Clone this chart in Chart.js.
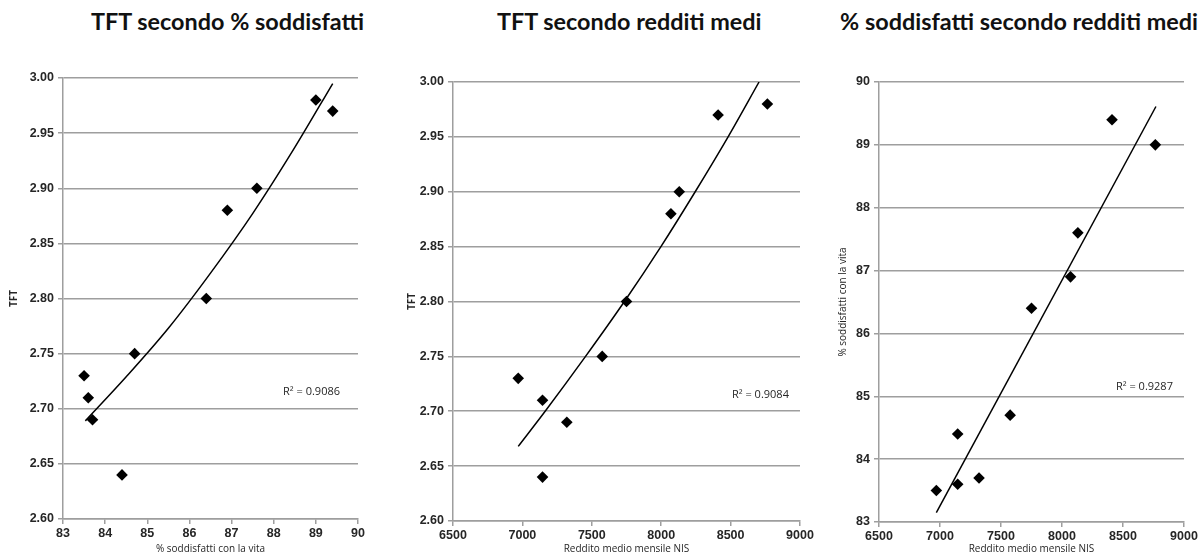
<!DOCTYPE html>
<html>
<head>
<meta charset="utf-8">
<script src="https://cdn.jsdelivr.net/npm/chart.js@4.4.1/dist/chart.umd.min.js"></script>
<style>
  html, body { margin: 0; padding: 0; background: #fff; }
  body { width: 1201px; height: 555px; position: relative; overflow: hidden; }
  .box { position: absolute; top: 0; height: 555px; }
  .title {
    position: absolute; top: 6px; font: 700 23.4px Lato, "Open Sans", sans-serif;
    color: #111; white-space: nowrap; line-height: 30px;
  }
</style>
</head>
<body>
<div class="title" id="t1" style="left:91px"></div>
<div class="title" id="t2" style="left:497px"></div>
<div class="title" id="t3" style="right:3px"></div>
<div class="box" style="left:0;width:380px"><canvas id="c1" width="380" height="555"></canvas></div>
<div class="box" style="left:380px;width:440px"><canvas id="c2" width="440" height="555"></canvas></div>
<div class="box" style="left:820px;width:381px"><canvas id="c3" width="381" height="555"></canvas></div>
<script>
// dati per regione
const soddisfatti = [83.5, 83.6, 83.7, 84.4, 84.7, 86.4, 86.9, 87.6, 89.0, 89.4];
const tft = [2.73, 2.71, 2.69, 2.64, 2.75, 2.80, 2.88, 2.90, 2.98, 2.97];
const reddito = [6970, 7145, 7320, 7145, 7575, 7750, 8070, 8130, 8765, 8410];

// linee di tendenza
const trend1X = [83.53, 84.5, 85.5, 86.5, 87.5, 88.5, 89.4];
const trend1Y = [2.689, 2.729, 2.773, 2.823, 2.877, 2.937, 2.995];
const trend2X = [6970, 7164, 7455, 7735, 7998, 8245, 8482, 8705];
const trend2Y = [2.668, 2.70, 2.75, 2.80, 2.85, 2.90, 2.95, 3.00];
const trend3X = [6970, 8770];
const trend3Y = [83.15, 89.61];

// tick
const tftTicks = [2.60, 2.65, 2.70, 2.75, 2.80, 2.85, 2.90, 2.95, 3.00];
const soddTicks = [83, 84, 85, 86, 87, 88, 89, 90];
const redditoTicks = [6500, 7000, 7500, 8000, 8500, 9000];

const titles = [
  "TFT secondo % soddisfatti",
  "TFT secondo redditi medi",
  "% soddisfatti secondo redditi medi"
];
const r2Labels = ["R² = 0.9086", "R² = 0.9084", "R² = 0.9287"];
const xTitles = ["% soddisfatti con la vita", "Reddito medio mensile NIS", "Reddito medio mensile NIS"];
const yTitles = ["TFT", "TFT", "% soddisfatti con la vita"];

document.getElementById("t1").textContent = titles[0];
document.getElementById("t2").textContent = titles[1];
document.getElementById("t3").textContent = titles[2];

const GRID = "#9e9e9e";
const TEXT = "#262626";

function pairs(xs, ys) {
  return xs.map(function (x, i) { return { x: x, y: ys[i] }; });
}

const r2Plugin = {
  id: "r2Label",
  afterDatasetsDraw: function (chart, args, opts) {
    const a = chart.chartArea;
    const ctx = chart.ctx;
    ctx.save();
    ctx.font = "11px 'Open Sans', sans-serif";
    ctx.fillStyle = TEXT;
    ctx.textBaseline = "middle";
    ctx.fillText(opts.text, a.left + opts.fx * (a.right - a.left), a.top + opts.fy * (a.bottom - a.top));
    ctx.restore();
  }
};

function makeChart(id, c) {
  new Chart(document.getElementById(id), {
    type: "scatter",
    data: {
      datasets: [
        {
          data: pairs(c.px, c.py),
          pointStyle: "rectRot",
          pointRadius: 5.8,
          pointHoverRadius: 5.8,
          backgroundColor: "#000",
          borderWidth: 0
        },
        {
          data: pairs(c.tx, c.ty),
          showLine: true,
          borderColor: "#000",
          borderWidth: 1.5,
          pointRadius: 0,
          cubicInterpolationMode: "monotone",
          fill: false
        }
      ]
    },
    plugins: [r2Plugin],
    options: {
      responsive: false,
      animation: false,
      layout: { padding: c.pad },
      plugins: {
        legend: { display: false },
        tooltip: { enabled: false },
        r2Label: { text: c.r2, fx: c.fx, fy: c.fy }
      },
      scales: {
        x: {
          type: "linear",
          min: c.xTicks[0],
          max: c.xTicks[c.xTicks.length - 1],
          afterBuildTicks: function (s) { s.ticks = c.xTicks.map(function (v) { return { value: v }; }); },
          afterFit: function (s) { s.height = c.xH; },
          ticks: {
            autoSkip: false, maxRotation: 0, padding: 2, color: TEXT,
            font: { family: "'Liberation Sans', Arial, sans-serif", size: 12.5, weight: "bold" },
            callback: function (v) { return String(v); }
          },
          grid: { drawOnChartArea: false, drawTicks: true, tickLength: 5, color: GRID, lineWidth: 1.5 },
          border: { color: GRID, width: 1.5 },
          title: {
            display: true, text: c.xTitle, color: TEXT, padding: { top: 0, bottom: 0 },
            font: { family: "'Open Sans', sans-serif", size: 10 }
          }
        },
        y: {
          type: "linear",
          min: c.yTicks[0],
          max: c.yTicks[c.yTicks.length - 1],
          afterBuildTicks: function (s) { s.ticks = c.yTicks.map(function (v) { return { value: v }; }); },
          afterFit: function (s) { s.width = c.yW; },
          ticks: {
            autoSkip: false, padding: 4, color: TEXT,
            font: { family: "'Liberation Sans', Arial, sans-serif", size: 12.5, weight: "bold" },
            callback: function (v) { return c.yDec ? Number(v).toFixed(c.yDec) : String(v); }
          },
          grid: { color: GRID, lineWidth: 1.5, tickLength: 5 },
          border: { color: GRID, width: 1.5 },
          title: {
            display: true, text: c.yTitle, color: TEXT, padding: { top: 8, bottom: 0 },
            font: { family: "'Open Sans', sans-serif", size: 10, weight: c.yBold ? "bold" : "normal" }
          }
        }
      }
    }
  });
}

makeChart("c1", {
  px: soddisfatti, py: tft, tx: trend1X, ty: trend1Y,
  xTicks: soddTicks, yTicks: tftTicks, yDec: 2,
  xTitle: xTitles[0], yTitle: yTitles[0], yBold: true, r2: r2Labels[0],
  pad: { top: 78, left: 0, right: 22, bottom: 0 }, yW: 63, xH: 36, fx: 0.746, fy: 0.712
});
makeChart("c2", {
  px: reddito, py: tft, tx: trend2X, ty: trend2Y,
  xTicks: redditoTicks, yTicks: tftTicks, yDec: 2,
  xTitle: xTitles[1], yTitle: yTitles[1], yBold: true, r2: r2Labels[1],
  pad: { top: 82, left: 18, right: 20, bottom: 0 }, yW: 55, xH: 34, fx: 0.804, fy: 0.713
});
makeChart("c3", {
  px: reddito, py: soddisfatti, tx: trend3X, ty: trend3Y,
  xTicks: redditoTicks, yTicks: soddTicks, yDec: 0,
  xTitle: xTitles[2], yTitle: yTitles[2], yBold: false, r2: r2Labels[2],
  pad: { top: 82, left: 9, right: 17, bottom: 0 }, yW: 50, xH: 33, fx: 0.777, fy: 0.693
});
</script>
</body>
</html>
